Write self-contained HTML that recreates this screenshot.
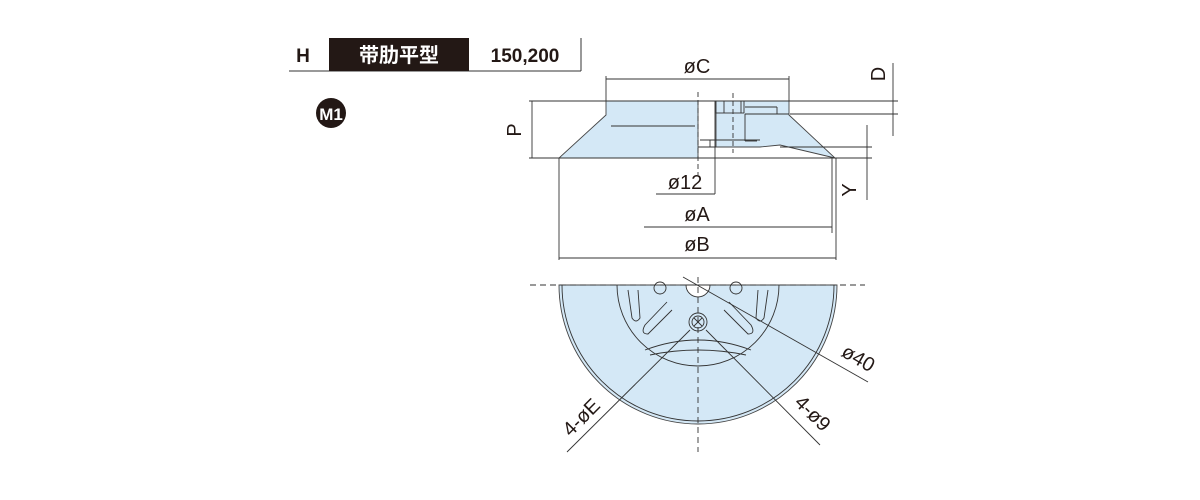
<!DOCTYPE html>
<html><head><meta charset="utf-8"><style>
body{margin:0;background:#fff;width:1200px;height:500px;overflow:hidden}
svg{display:block}
text{font-family:"Liberation Sans","Noto Sans CJK SC",sans-serif}
</style></head><body>
<svg width="1200" height="500" viewBox="0 0 1200 500" xmlns="http://www.w3.org/2000/svg">
<!-- header -->
<line x1="289" y1="71" x2="581" y2="71" stroke="#333" stroke-width="1"/>
<line x1="581" y1="38" x2="581" y2="71" stroke="#333" stroke-width="1"/>
<rect x="329" y="38" width="140" height="33" fill="#231815"/>
<text x="303" y="62" font-size="19" font-weight="bold" text-anchor="middle" fill="#231815">H</text>
<text x="399" y="62" font-size="20" font-weight="bold" text-anchor="middle" fill="#fff">带肋平型</text>
<text x="525" y="62" font-size="19" font-weight="bold" text-anchor="middle" fill="#231815">150,200</text>
<circle cx="331" cy="113" r="15" fill="#231815"/>
<text x="331" y="120" font-size="17" font-weight="bold" text-anchor="middle" fill="#fff">M1</text>

<g stroke="#333" stroke-width="0.9" fill="none">
<!-- body side view -->
<path d="M606,101 L698,101 L698,158 L559,158 L606,115 Z" fill="#d4e8f6" stroke="#444"/>
<path d="M716,101 L789,101 L789,115 L835,158 L780,145 L760,147 L716,147 Z" fill="#d4e8f6" stroke="#444"/>
<line x1="611" y1="126" x2="695" y2="126"/>
<rect x="716" y="101" width="28" height="12" fill="#d4e8f6"/>
<line x1="724" y1="101" x2="724" y2="113"/><line x1="741" y1="101" x2="741" y2="113"/>
<line x1="745" y1="107" x2="777" y2="107"/><line x1="777" y1="107" x2="777" y2="114"/>
<line x1="745" y1="114" x2="789" y2="114"/>
<line x1="745" y1="114" x2="745" y2="141"/><line x1="745" y1="141" x2="757" y2="141"/>
<line x1="700" y1="140" x2="760" y2="140"/><line x1="710" y1="140" x2="710" y2="147"/>
<line x1="698" y1="147" x2="716" y2="147"/>
<line x1="698" y1="92" x2="698" y2="175" stroke-dasharray="5,3"/>
<line x1="733" y1="93" x2="733" y2="153" stroke-dasharray="5,3"/>
<!-- dims -->
<line x1="529" y1="101" x2="898" y2="101"/>
<line x1="529" y1="158" x2="872" y2="158"/>
<line x1="790" y1="114" x2="898" y2="114"/>
<line x1="780" y1="147" x2="872" y2="147"/>
<line x1="606" y1="76" x2="606" y2="101"/><line x1="789" y1="76" x2="789" y2="101"/>
<line x1="606" y1="79" x2="789" y2="79"/>
<line x1="532" y1="101" x2="532" y2="158"/>
<line x1="893" y1="63" x2="893" y2="136"/>
<line x1="867" y1="125" x2="867" y2="200"/>
<line x1="715" y1="101" x2="715" y2="194"/><line x1="656" y1="194" x2="715" y2="194"/>
<line x1="832" y1="158" x2="832" y2="233"/><line x1="644" y1="227" x2="832" y2="227"/>
<line x1="559" y1="158" x2="559" y2="260"/><line x1="836" y1="158" x2="836" y2="260"/>
<line x1="559" y1="258" x2="836" y2="258"/>

<!-- bottom view -->
<path d="M559,285 A139,139 0 0 0 837,285 Z" fill="#d4e8f6" stroke="#444"/>
<path d="M562,285 A136,136 0 0 0 834,285"/>
<path d="M617,285 A81,81 0 0 0 779,285"/>
<path d="M645,350 Q698,330 751,350"/>
<path d="M650,355 Q698,345 746,355"/>
<path d="M686,285 A12,12 0 0 0 710,285 Z" fill="#fff"/>
<circle cx="698" cy="322" r="9"/><circle cx="698" cy="322" r="6"/>
<line x1="694" y1="318" x2="702" y2="326"/><line x1="702" y1="318" x2="694" y2="326"/>
<circle cx="660" cy="288" r="6"/><circle cx="736" cy="288" r="6"/>
<path d="M628,290 L632,318 Q636,324 640,318 L638,290"/>
<path d="M768,290 L764,318 Q760,324 756,318 L758,290"/>
<path d="M667,302 L645,325 Q640,334 648,334 L672,310"/>
<path d="M729,302 L751,325 Q756,334 748,334 L724,310"/>
<line x1="530" y1="285" x2="865" y2="285" stroke-dasharray="6,4"/>
<line x1="698" y1="277" x2="698" y2="452" stroke-dasharray="6,4"/>
<line x1="683" y1="277" x2="868" y2="382"/>
<line x1="706" y1="330" x2="820" y2="445"/>
<line x1="690" y1="330" x2="567" y2="452"/>
</g>
<g font-size="20" fill="#231815">
<text x="697" y="73" text-anchor="middle">øC</text>
<text x="685" y="189" text-anchor="middle">ø12</text>
<text x="697" y="221" text-anchor="middle">øA</text>
<text x="697" y="251" text-anchor="middle">øB</text>
<text transform="translate(885,74) rotate(-90)" text-anchor="middle">D</text>
<text transform="translate(521,130) rotate(-90)" text-anchor="middle">P</text>
<text transform="translate(856,190) rotate(-90)" text-anchor="middle">Y</text>
<text transform="translate(855,364) rotate(30)" text-anchor="middle">ø40</text>
<text transform="translate(808,418) rotate(45)" text-anchor="middle">4-ø9</text>
<text transform="translate(586,422) rotate(-45)" text-anchor="middle">4-øE</text>
</g>
</svg>
</body></html>
